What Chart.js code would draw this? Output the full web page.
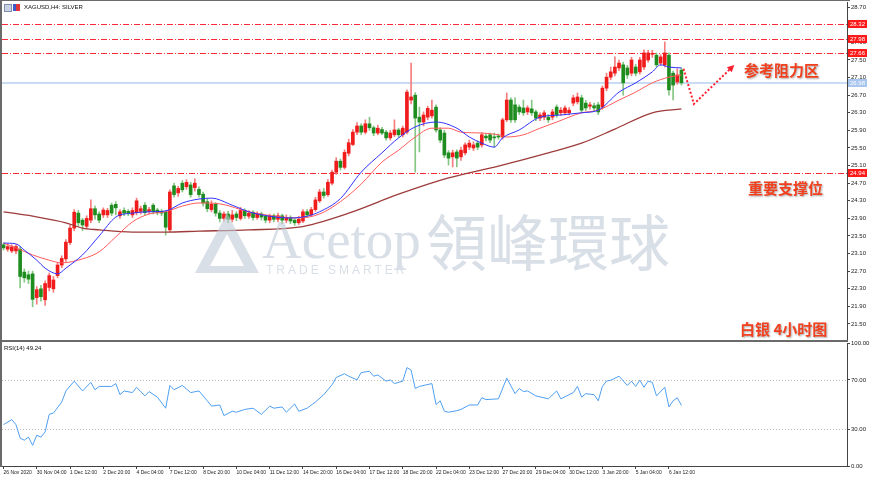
<!DOCTYPE html>
<html><head><meta charset="utf-8"><title>XAGUSD H4 SILVER</title>
<script src="https://cdn.jsdelivr.net/npm/chart.js@4.4.1/dist/chart.umd.min.js"></script>
<style>
html,body{margin:0;padding:0;background:#fff;}
#wrap{position:relative;width:870px;height:479px;overflow:hidden;background:#fff;}
canvas{position:absolute;left:0;}
#c1{top:0;}
#c2{top:332px;}
#wm{position:absolute;left:0;top:0;opacity:0.6;pointer-events:none;}
.frame{position:absolute;background:#6a6a6a;}
.small{position:absolute;font-family:"Liberation Sans",Arial,sans-serif;font-size:6px;line-height:7px;color:#111;white-space:nowrap;}
.note{position:absolute;font-family:"Noto Sans CJK SC",sans-serif;font-weight:700;font-size:15px;line-height:16px;color:#f2401e;text-shadow:1px 1px 2px rgba(0,0,0,0.35);white-space:nowrap;}
.ic{position:absolute;top:4px;width:7px;height:7px;}
</style></head>
<body><div id="wrap">
<canvas id="c1" width="870" height="341"></canvas>
<canvas id="c2" width="870" height="147"></canvas>
<svg id="wm" width="870" height="479" xmlns="http://www.w3.org/2000/svg">
  <path fill="#c0cad8" fill-rule="evenodd" d="M227 213 L195 273 L259 273 Z M227 234 L210 266 L244 266 Z"/>
  <text x="262" y="258" font-family="Liberation Serif, DejaVu Serif, serif" font-size="55" fill="#c0cad8">Acetop</text>
  <text x="426" y="266" font-family="Noto Sans CJK TC, Noto Sans CJK SC, sans-serif" font-size="61" fill="#c0cad8">領峰環球</text>
  <text x="266" y="274" font-family="Liberation Sans, Arial, sans-serif" font-size="12" letter-spacing="3" fill="#c0cad8">TRADE SMARTER</text>
</svg>
<div class="frame" style="left:0;top:0;width:2px;height:467px"></div>
<div class="frame" style="left:0;top:0;width:850px;height:1px"></div>
<div class="frame" style="left:0;top:340px;width:848px;height:2px"></div>
<div class="ic" style="left:4px;background:#c9d3e3;border:1px solid #7f8fb0;width:6px;height:6px"></div>
<div class="ic" style="left:13px;background:linear-gradient(90deg,#3b5bc8 50%,#e0383a 50%);"></div>
<div class="small" style="left:24px;top:4px">XAGUSD,H4: SILVER</div>
<div class="small" style="left:4px;top:345px">RSI(14) 49.24</div>
<div class="note" style="left:744px;top:62px">参考阻力区</div>
<div class="note" style="left:748px;top:180px">重要支撑位</div>
<div class="note" style="left:740px;top:321px">白银 4小时图</div>
</div>
<script>
// ---------- data ----------
const timeLabels = ["26 Nov 2020","30 Nov 04:00","1 Dec 12:00","2 Dec 20:00","4 Dec 04:00","7 Dec 12:00","8 Dec 20:00","10 Dec 04:00","11 Dec 12:00","14 Dec 20:00","16 Dec 04:00","17 Dec 12:00","18 Dec 20:00","22 Dec 04:00","23 Dec 12:00","27 Dec 20:00","29 Dec 04:00","30 Dec 12:00","3 Jan 20:00","5 Jan 04:00","6 Jan 12:00"];
const timeTicks = [0,8,16,24,32,40,48,56,64,72,80,88,96,104,112,120,128,136,144,152,160];
const priceTicks = [21.5,21.9,22.3,22.7,23.1,23.5,23.9,24.3,24.7,25.1,25.5,25.9,26.3,26.7,27.1,27.5,27.9,28.3,28.7];
const rsiTicks = [0,30,70,100];
const rsiLevels = [70,30];
const resistLevels = [28.32,27.98,27.66];
const supportLevels = [24.94];
const bidPrice = 26.98;

const openP = [23.30,23.20,23.16,23.16,23.20,22.68,22.62,22.64,22.10,22.30,22.05,22.33,22.30,22.60,22.84,22.98,23.35,23.68,24.02,23.86,
23.72,23.86,24.12,24.00,23.98,23.98,24.20,24.22,23.96,24.08,24.06,23.98,24.03,24.06,24.20,24.06,24.20,24.09,24.06,24.04,
23.64,24.64,24.48,24.70,24.62,24.66,24.60,24.56,24.45,24.28,24.10,24.22,24.02,23.90,24.00,23.88,24.00,23.90,24.08,23.95,
24.04,23.92,24.00,23.95,23.86,23.96,23.88,23.96,23.86,23.92,23.86,23.80,23.84,24.05,23.98,24.10,24.30,24.50,24.44,24.70,
24.95,25.20,25.06,25.38,25.58,25.86,26.00,25.86,26.05,25.96,25.84,25.92,25.86,25.73,25.80,25.91,25.80,25.86,26.59,26.70,
26.20,26.09,26.20,26.23,26.43,25.91,25.84,25.39,25.30,25.41,25.30,25.39,25.52,25.50,25.61,25.57,25.77,25.80,25.75,25.77,
25.75,26.14,26.59,26.48,26.43,26.41,26.32,26.39,26.32,26.18,26.20,26.20,26.20,26.43,26.30,26.30,26.30,26.52,26.55,26.64,
26.52,26.45,26.46,26.48,26.43,26.86,27.11,27.20,27.32,27.39,27.32,27.20,27.34,27.23,27.34,27.50,27.63,27.61,27.43,27.39,
27.61,27.20,27.00,27.27];
const highP = [23.34,23.32,23.30,23.30,23.26,22.75,22.70,22.70,22.35,22.38,22.48,22.66,22.58,22.90,23.05,23.42,23.74,24.10,24.08,23.90,
23.96,24.32,24.18,24.05,24.14,24.13,24.25,24.28,24.10,24.14,24.10,24.14,24.36,24.18,24.26,24.15,24.24,24.13,24.10,24.08,
24.55,24.70,24.63,24.76,24.78,24.72,24.80,24.62,24.50,24.34,24.30,24.26,24.08,24.05,24.06,24.08,24.05,24.15,24.12,24.08,
24.08,24.05,24.04,23.98,24.00,24.00,24.02,24.00,23.98,23.96,23.90,23.95,24.10,24.10,24.15,24.38,24.56,24.58,24.78,25.00,
25.28,25.25,25.46,25.70,25.92,26.08,26.05,26.14,26.20,26.00,26.02,25.97,25.90,25.90,26.14,25.95,26.00,26.82,27.43,26.76,
26.43,26.32,26.45,26.59,26.48,25.96,25.90,25.44,25.45,25.46,25.52,25.62,25.68,25.64,25.66,25.85,25.82,25.84,25.84,25.82,
26.18,26.75,26.64,26.64,26.48,26.59,26.46,26.59,26.36,26.30,26.35,26.26,26.38,26.48,26.42,26.46,26.42,26.70,26.75,26.70,
26.58,26.54,26.52,26.54,26.91,27.20,27.34,27.57,27.50,27.45,27.38,27.56,27.40,27.56,27.73,27.72,27.72,27.66,27.62,27.91,
27.66,27.25,27.30,27.32];
const lowP = [23.18,23.15,23.12,23.10,22.32,22.45,22.42,21.89,21.95,22.02,21.92,22.25,22.22,22.55,22.78,22.92,23.30,23.62,23.72,23.62,
23.66,23.80,23.88,23.80,23.92,23.92,23.96,23.98,23.90,23.96,23.96,23.92,23.98,24.00,23.97,24.00,24.00,23.98,23.96,23.52,
23.60,24.38,24.40,24.50,24.56,24.38,24.52,24.38,24.18,24.05,24.05,23.95,23.82,23.84,23.80,23.82,23.85,23.86,23.90,23.90,
23.86,23.88,23.86,23.80,23.80,23.82,23.82,23.78,23.80,23.78,23.74,23.76,23.80,23.92,23.94,24.06,24.26,24.36,24.40,24.66,
24.90,25.00,25.02,25.32,25.55,25.80,25.80,25.82,25.90,25.78,25.80,25.80,25.68,25.68,25.76,25.74,25.75,25.82,26.50,24.95,
25.41,26.00,26.14,26.18,25.86,25.62,25.28,25.11,25.07,25.07,25.22,25.34,25.46,25.44,25.46,25.52,25.66,25.62,25.52,25.70,
25.70,26.10,26.08,26.08,26.26,26.24,26.26,26.24,26.12,26.12,26.14,26.08,26.14,26.20,26.24,26.25,26.25,26.46,26.50,26.30,
26.35,26.38,26.34,26.26,26.38,26.80,27.05,27.14,27.26,26.70,27.08,27.14,27.14,27.18,27.28,27.45,27.56,27.34,27.38,27.34,
26.70,26.59,26.95,26.93];
const closeP = [23.23,23.26,23.25,23.26,22.58,22.55,22.52,22.06,22.28,22.12,22.42,22.60,22.50,22.84,22.99,23.36,23.68,24.04,23.80,23.75,
23.90,24.12,23.98,23.86,24.09,24.08,24.02,24.14,24.05,24.02,24.02,24.08,24.30,24.12,24.03,24.10,24.05,24.03,24.02,23.70,
24.50,24.44,24.58,24.55,24.72,24.44,24.70,24.44,24.25,24.12,24.22,24.02,23.90,24.00,23.88,23.98,23.92,24.08,23.96,24.02,
23.92,24.00,23.93,23.86,23.95,23.88,23.96,23.86,23.92,23.84,23.80,23.88,24.05,23.98,24.10,24.32,24.50,24.42,24.72,24.95,
25.20,25.06,25.40,25.62,25.86,26.00,25.86,26.05,25.96,25.84,25.95,25.84,25.73,25.84,25.91,25.80,25.95,26.77,26.66,26.18,
26.09,26.25,26.40,26.36,25.91,25.68,25.34,25.27,25.39,25.27,25.45,25.57,25.61,25.57,25.52,25.80,25.73,25.68,25.73,25.75,
26.14,26.59,26.14,26.14,26.32,26.30,26.41,26.30,26.18,26.25,26.30,26.14,26.32,26.25,26.36,26.41,26.36,26.64,26.66,26.36,
26.41,26.48,26.41,26.32,26.86,27.11,27.23,27.34,27.43,26.98,27.16,27.50,27.20,27.50,27.66,27.66,27.64,27.39,27.57,27.66,
26.82,26.93,27.16,26.98];

// moving averages: [bar index, price]
const maFast = [[0,23.34],[3,23.32],[5,23.18],[8,22.95],[10,22.77],[13,22.64],[15,22.77],[19,23.07],[23,23.5],[27,23.93],[31,24.02],[35,24.05],[39,24.07],[43,24.25],[47,24.34],[50,24.36],[55,24.20],[59,24.05],[64,23.95],[69,23.91],[73,23.95],[76,24.05],[81,24.35],[86,24.95],[91,25.39],[95,25.73],[99,25.98],[104,26.09],[109,25.95],[112,25.75],[115,25.61],[118,25.52],[120,25.73],[124,25.91],[129,26.20],[134,26.25],[139,26.30],[143,26.36],[148,26.77],[152,26.98],[156,27.23],[158,27.39],[160,27.34],[163,27.32]];
const maMid = [[0,23.34],[3,23.23],[7,23.07],[11,22.95],[14,22.89],[19,22.98],[23,23.14],[27,23.48],[31,23.82],[35,24.00],[39,24.05],[43,24.18],[47,24.25],[52,24.23],[59,24.05],[67,23.93],[71,23.91],[76,24.00],[81,24.28],[86,24.68],[91,25.18],[95,25.45],[99,25.75],[103,25.95],[107,25.95],[110,25.86],[115,25.84],[119,25.80],[121,25.75],[125,25.80],[129,25.95],[133,26.09],[139,26.30],[143,26.36],[148,26.59],[152,26.77],[156,26.98],[160,27.11],[163,27.16]];
const maSlow = [[0,24.05],[7,23.95],[15,23.80],[19,23.68],[23,23.64],[31,23.59],[39,23.59],[47,23.61],[59,23.64],[71,23.70],[83,24.02],[95,24.45],[107,24.82],[119,25.09],[131,25.39],[139,25.61],[147,25.93],[156,26.30],[163,26.39]];

// RSI(14): [bar index, value]
const rsiPoints = [[0,33.6],[2,37.8],[3,33.6],[4,22.7],[5,21],[6,23.5],[7,16.8],[8,25],[9,23.5],[10,27.7],[11,42],[12,43],[14,52],[15,61],[17,69],[19,61],[21,68],[22,62],[23,64.7],[26,64.7],[27,67],[28,58],[29,61],[31,59.7],[32,64],[34,57],[35,60.5],[37,56],[39,47],[40,65.5],[41,62],[43,65.5],[45,59.7],[47,61],[49,53],[50,48.7],[52,49.6],[53,41],[55,44.5],[56,43.7],[58,46],[60,47],[62,42],[64,48.7],[65,47],[67,48],[68,43.7],[70,50.4],[71,44.5],[73,47],[75,52],[77,58],[79,66],[80,72],[82,75],[83,73],[85,70],[86,76],[88,77],[89,73],[90,74],[92,69],[93,70],[94,67],[96,69],[97,80],[98,78],[99,63],[100,64.7],[103,67],[104,50],[105,53],[106,44.5],[107,43.7],[109,45],[110,46],[112,49.6],[114,49.6],[115,55.5],[116,54],[119,54.6],[121,71.4],[123,58.8],[124,63],[125,60.5],[126,61],[128,57],[131,54.6],[133,61],[134,54.6],[137,59.7],[138,64.7],[139,56],[140,58.8],[142,58],[143,53],[144,64.7],[145,69],[146,69.7],[148,73],[150,65.5],[151,69],[152,64.7],[153,69.7],[154,64],[155,69],[156,68],[157,57],[159,64],[160,48],[161,53],[162,55.5],[163,49.2]];

// drawn arrow (annotation) in data coords: [bar index, price]
const arrowPath = [[163.5,27.30],[166,26.50],[175.2,27.34]];

// ---------- chart ----------
const X_MIN = -0.36, X_MAX = 202.81;
const UP_BODY = '#f01b1b', UP_WICK = '#f47c7c', DN_BODY = '#1f8c1f', DN_WICK = '#84c684';
const isUp = i => closeP[i] >= openP[i];
Chart.defaults.font.family = "'Liberation Sans', Arial, sans-serif";
Chart.defaults.color = '#111';

const mainPlugin = {
  id: 'mainDeco',
  beforeDatasetsDraw(chart) {
    const {ctx, chartArea: a, scales: {y}} = chart;
    ctx.save();
    const yb = Math.round(y.getPixelForValue(bidPrice));
    ctx.fillStyle = '#c8dcf3';
    ctx.fillRect(a.left, yb - 1, a.right - a.left, 2);
    // dash-dot level lines, pixel-crisp
    ctx.fillStyle = '#ff2a36';
    [...resistLevels, ...supportLevels].forEach(v => {
      const py = Math.round(y.getPixelForValue(v));
      for (let px = Math.ceil(a.left); px < a.right; px += 11) {
        ctx.fillRect(px, py, Math.min(6, a.right - px), 1);
        if (px + 8 < a.right) ctx.fillRect(px + 8, py, 1, 1);
      }
    });
    ctx.restore();
  },
  afterDraw(chart) {
    const {ctx, chartArea: a, scales: {x, y}} = chart;
    ctx.save();
    ctx.font = "6px 'Liberation Sans', Arial, sans-serif";
    ctx.textBaseline = 'middle'; ctx.textAlign = 'left';
    const box = (v, bg) => {
      const py = Math.round(y.getPixelForValue(v));
      ctx.fillStyle = bg; ctx.fillRect(a.right + 1, py - 4, 19, 8);
      ctx.fillStyle = '#fff'; ctx.fillText(v.toFixed(2), a.right + 3, py + 0.5);
    };
    [...resistLevels, ...supportLevels].forEach(v => box(v, '#ff1a1a'));
    box(bidPrice, '#a9c6ee');
    const pts = arrowPath.map(([i, v]) => [x.getPixelForValue(i), y.getPixelForValue(v)]);
    ctx.strokeStyle = '#ff1f2f'; ctx.lineWidth = 2; ctx.setLineDash([2, 2]);
    ctx.beginPath();
    pts.forEach((p, k) => k ? ctx.lineTo(p[0], p[1]) : ctx.moveTo(p[0], p[1]));
    ctx.stroke();
    const p1 = pts[pts.length - 2], p2 = pts[pts.length - 1];
    const ang = Math.atan2(p2[1] - p1[1], p2[0] - p1[0]);
    const c = Math.cos(ang), s = Math.sin(ang);
    ctx.setLineDash([]); ctx.fillStyle = '#ff1f2f';
    ctx.beginPath();
    ctx.moveTo(p2[0] + 3 * c, p2[1] + 3 * s);
    ctx.lineTo(p2[0] - 4 * c - 3.5 * s, p2[1] - 4 * s + 3.5 * c);
    ctx.lineTo(p2[0] - 4 * c + 3.5 * s, p2[1] - 4 * s - 3.5 * c);
    ctx.closePath(); ctx.fill();
    ctx.restore();
  }
};

new Chart(document.getElementById('c1'), {
  type: 'bar',
  data: {
    datasets: [
      {type: 'line', label: 'MA fast', data: maFast.map(p => ({x: p[0], y: p[1]})), borderColor: '#3030ff', borderWidth: 1, pointRadius: 0, cubicInterpolationMode: 'monotone', order: 0},
      {type: 'line', label: 'MA mid', data: maMid.map(p => ({x: p[0], y: p[1]})), borderColor: '#ff5a5a', borderWidth: 1, pointRadius: 0, cubicInterpolationMode: 'monotone', order: 1},
      {type: 'line', label: 'MA slow', data: maSlow.map(p => ({x: p[0], y: p[1]})), borderColor: '#9e3b3b', borderWidth: 1.3, pointRadius: 0, cubicInterpolationMode: 'monotone', order: 2},
      {type: 'bar', label: 'body', data: openP.map((o, i) => ({x: i, y: [o, closeP[i]]})), backgroundColor: c => isUp(c.dataIndex) ? UP_BODY : DN_BODY, barThickness: 3, minBarLength: 1, grouped: false, order: 3},
      {type: 'bar', label: 'wick', data: lowP.map((l, i) => ({x: i, y: [l, highP[i]]})), backgroundColor: c => isUp(c.dataIndex) ? UP_WICK : DN_WICK, barThickness: 1, grouped: false, order: 4}
    ]
  },
  options: {
    responsive: false, animation: false, devicePixelRatio: 1, events: [],
    layout: {padding: {left: 2, top: 2, right: 0, bottom: 2}},
    plugins: {legend: {display: false}, tooltip: {enabled: false}},
    scales: {
      x: {type: 'linear', min: X_MIN, max: X_MAX, display: false, offset: false},
      y: {
        type: 'linear', position: 'right', min: 21.159, max: 28.818,
        afterFit(s) { s.width = 23; s.paddingTop = 0; s.paddingBottom = 0; },
        afterBuildTicks(s) { s.ticks = priceTicks.map(v => ({value: v})); },
        ticks: {callback: v => Number(v).toFixed(2), font: {size: 6}, color: '#222', padding: 1},
        grid: {drawOnChartArea: false, drawTicks: true, tickLength: 3, color: '#444'},
        border: {display: true, color: '#444', width: 1}
      }
    }
  },
  plugins: [mainPlugin]
});

const rsiPlugin = {
  id: 'rsiLevels',
  beforeDatasetsDraw(chart) {
    const {ctx, chartArea: a, scales: {y}} = chart;
    ctx.save();
    ctx.strokeStyle = '#bdbdbd'; ctx.lineWidth = 1; ctx.setLineDash([1, 2]);
    rsiLevels.forEach(v => {
      const py = Math.round(y.getPixelForValue(v)) + 0.5;
      ctx.beginPath(); ctx.moveTo(a.left, py); ctx.lineTo(a.right, py); ctx.stroke();
    });
    ctx.restore();
  }
};

new Chart(document.getElementById('c2'), {
  type: 'line',
  data: {datasets: [{label: 'RSI(14)', data: rsiPoints.map(p => ({x: p[0], y: p[1]})), borderColor: '#4f9ff2', borderWidth: 1, pointRadius: 0, tension: 0}]},
  options: {
    responsive: false, animation: false, devicePixelRatio: 1, events: [],
    layout: {padding: {left: 2, top: 11, right: 0, bottom: 0}},
    plugins: {legend: {display: false}, tooltip: {enabled: false}},
    scales: {
      x: {
        type: 'linear', min: X_MIN, max: X_MAX, offset: false,
        afterFit(s) { s.height = 13; s.paddingLeft = 0; s.paddingRight = 0; },
        afterBuildTicks(s) { s.ticks = timeTicks.map(v => ({value: v})); },
        ticks: {autoSkip: false, maxRotation: 0, minRotation: 0, align: 'start', padding: 1, font: {size: 5}, color: '#222',
          callback: v => timeLabels[timeTicks.indexOf(v)]},
        grid: {drawOnChartArea: false, drawTicks: true, tickLength: 3, color: '#444'},
        border: {display: true, color: '#444', width: 1}
      },
      y: {
        type: 'linear', position: 'right', min: 0, max: 100,
        afterFit(s) { s.width = 23; s.paddingTop = 0; s.paddingBottom = 0; },
        afterBuildTicks(s) { s.ticks = rsiTicks.map(v => ({value: v})); },
        ticks: {callback: v => Number(v).toFixed(2), font: {size: 6}, color: '#222', padding: 1},
        grid: {drawOnChartArea: false, drawTicks: true, tickLength: 3, color: '#444'},
        border: {display: true, color: '#444', width: 1}
      }
    }
  },
  plugins: [rsiPlugin]
});
</script>
</body></html>
